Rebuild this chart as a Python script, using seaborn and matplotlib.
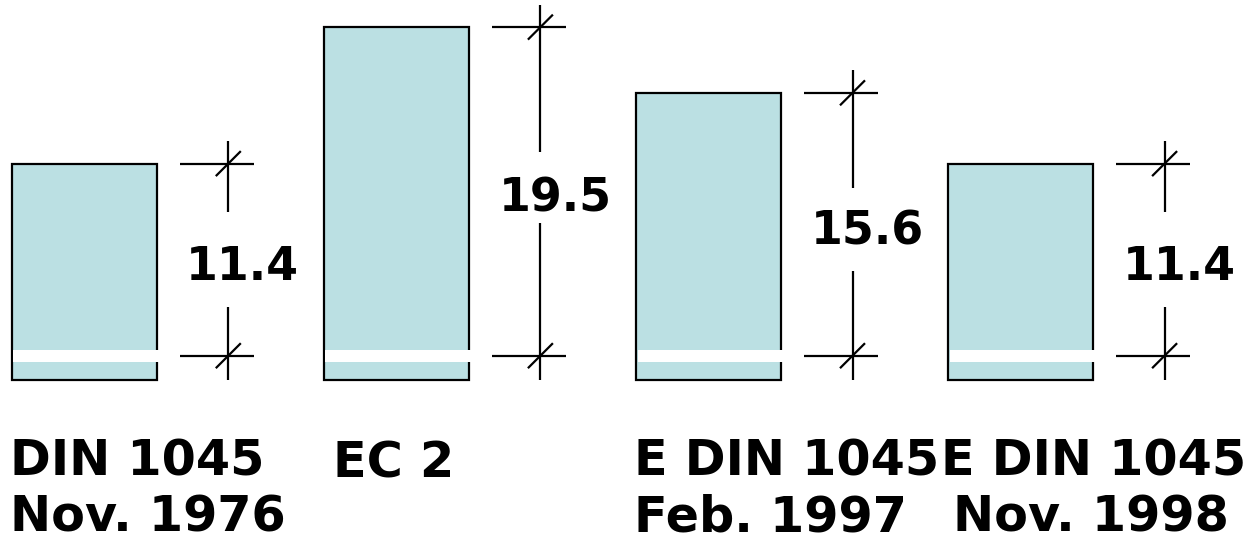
import matplotlib
matplotlib.use("Agg")
import matplotlib.pyplot as plt
import seaborn as sns
import pandas as pd

# Effective depths (labelled dimensions) of the cross-sections
standard = ["DIN 1045", "EC 2", "E DIN 1045", "E DIN 1045"]
edition = ["Nov. 1976", "", "Feb. 1997", "Nov. 1998"]
effective_depth = [11.4, 19.5, 15.6, 11.4]
cover = 1.44  # concrete below the reinforcement layer

df = pd.DataFrame({
    "section": [f"{s}\n{e}" for s, e in zip(standard, edition)],
    "depth": effective_depth,
})
df["total"] = df["depth"] + cover

sns.set_theme(style="white")
plt.rcParams["font.family"] = ["DejaVu Sans"]

W, H, DPI = 1259, 534, 100
fig = plt.figure(figsize=(W / DPI, H / DPI), dpi=DPI)
ax = fig.add_axes([0, 0, 1, 1])

# scale: data units per pixel
UX = 1 / 312.1
UY = 1 / 16.85
XLIM = (-84.5 * UX, 3 + (W - 1020.8) * UX)
YLIM = (-(H - 355.7) * UY, 355.7 * UY)

fill = "#BBE0E3"
lw = 1.6
bar_w = 145 * UX
sns.barplot(data=df, x="section", y="total", bottom=-cover, width=bar_w,
            color=fill, edgecolor="black", linewidth=lw, errorbar=None,
            saturation=1, ax=ax, zorder=2)

# white reinforcement stripe across each section
for i in range(len(df)):
    left = i - bar_w / 2
    ax.fill_between([left + 1.3 * UX, left + bar_w + 1.8 * UX],
                    -5.85 * UY, 5.85 * UY, color="white", lw=0, zorder=3)

# dimension lines with gaps around the value
gap_frac = [(0.255, 0.75), (0.405, 0.62), (0.323, 0.637), (0.255, 0.75)]
for i, d in enumerate(df["depth"]):
    xd = i + 143.8 * UX
    lo, hi = gap_frac[i]
    ax.plot([xd, xd], [-cover, lo * d], color="black", lw=lw, zorder=4,
            solid_capstyle="butt")
    ax.plot([xd, xd], [hi * d, d + 1.33], color="black", lw=lw, zorder=4,
            solid_capstyle="butt")
    for y in (0, d):
        ax.plot([xd - 48.5 * UX, xd + 25.5 * UX], [y, y], color="black",
                lw=lw, zorder=4, solid_capstyle="butt")
        ax.plot([xd - 12.5 * UX, xd + 12.5 * UX], [y - 12.5 * UY, y + 12.5 * UY],
                color="black", lw=lw, zorder=4, solid_capstyle="butt")
    ax.text(xd + 14.5 * UX, d / 2 - 20.4 * UY, f"{d:.1f}", ha="center",
            va="baseline", fontsize=33, fontweight="bold", color="black",
            zorder=5)

# two-line section captions
line1_dx = [-74, -64, -75, -80]
line2_dx = [-74, 0, -75, -68]
line1_y = [-(475 - 355.7), -(478 - 355.7), -(475 - 355.7), -(475 - 355.7)]
for i, (s, e) in enumerate(zip(standard, edition)):
    ax.text(i + line1_dx[i] * UX, line1_y[i] * UY, s, ha="left", va="baseline",
            fontsize=35.5, fontweight="bold", color="black")
    if e:
        ax.text(i + line2_dx[i] * UX, -(531 - 355.7) * UY, e, ha="left",
                va="baseline", fontsize=35.5, fontweight="bold", color="black")

ax.set_xlim(*XLIM)
ax.set_ylim(*YLIM)
ax.axis("off")
fig.savefig("out.png", dpi=DPI, facecolor="white")
